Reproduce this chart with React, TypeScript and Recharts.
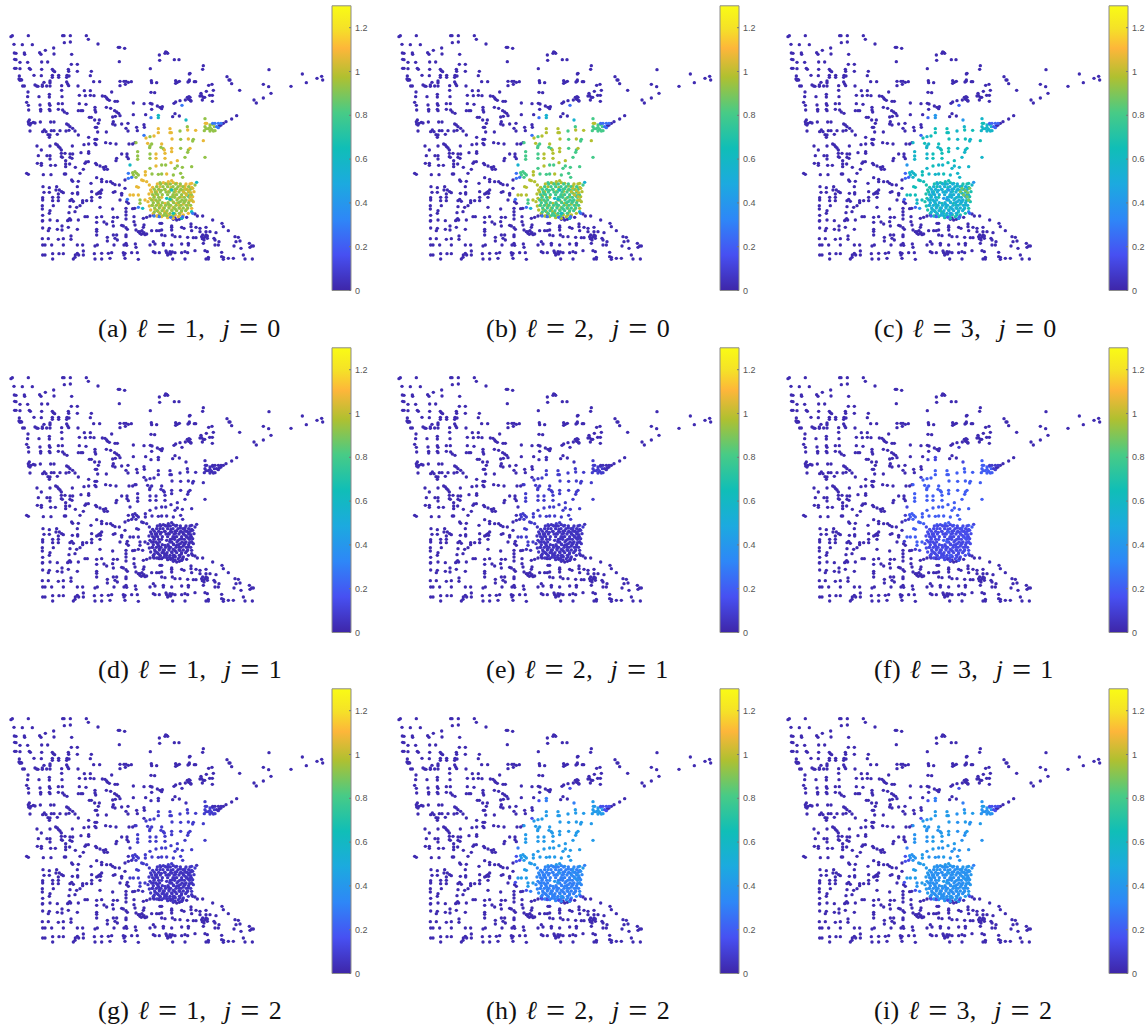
import { BarChart, Bar, ScatterChart, Scatter, XAxis, YAxis } from 'recharts';

type Pair = number[];
const shift = (list: Pair[], dx: number, dy: number) => list.map(([x, y]) => ({ x: x + dx, y: y + dy }));
const plain = (list: Pair[]) => list.map(([x, y]) => ({ x, y }));

const northWestDark: Pair[] = [
  [33,50],[37,47],[85,47],[188,47],[192,47],[211,47],[259,47],[265,58],[42,73],[67,74],[97,74],[193,68],[211,66],[294,72],
  [161,84],[136,91],[355,82],[359,82],[374,85],[43,99],[48,100],[73,99],[74,103],[119,98],[123,103],[162,102],[215,103],
  [478,105],[495,100],[500,97],[503,100],[497,96],[44,118],[48,119],[60,127],[83,127],[125,126],[143,126],[358,125],[479,121],
  [523,119],[537,119],[214,133],[232,133],[44,145],[48,145],[60,146],[88,145],[91,148],[125,148],[157,148],[160,152],[164,155],
  [205,148],[206,154],[232,154],[274,154],[451,146],[58,168],[102,166],[124,167],[157,166],[157,172],[176,166],[176,172],[201,166],
  [207,168],[200,172],[271,167],[568,162],[57,177],[62,178],[65,180],[60,181],[132,187],[150,183],[150,188],[200,186],[203,192],
  [281,185],[299,185],[360,184],[372,184],[378,184],[385,187],[394,185],[376,193],[360,197],[454,182],[455,188],[470,188],[527,182],
  [532,187],[538,184],[527,190],[567,184],[68,198],[73,198],[105,195],[110,198],[114,199],[127,195],[127,199],[140,198],[150,198],
  [185,197],[206,197],[234,198],[185,211],[84,216],[253,212],[271,212],[335,216],[453,217],[464,218],[83,230],[117,230],[148,223],
  [148,231],[186,230],[238,226],[256,227],[271,226],[282,227],[307,228],[315,229],[320,234],[323,238],[328,241],[345,244],[352,244],
  [562,232],[556,240],[540,242],[527,246],[522,250],[566,238],[80,247],[85,256],[148,251],[150,256],[175,251],[187,251],[238,251],
  [258,253],[285,262],[400,249],[432,251],[451,250],[456,252],[472,258],[480,262],[487,260],[485,266],[86,270],[120,255],[122,268],
  [122,273],[148,268],[150,272],[175,268],[188,270],[193,276],[201,280],[235,272],[243,272],[248,272],[285,270],[287,276],[319,262],
  [332,265],[344,272],[350,276],[356,280],[455,268],[437,284],[400,284],[360,287],[338,291],[346,289],[525,281],[518,290],[538,288],
  [268,292],[274,292],[88,300],[85,305],[86,312],[93,310],[100,307],[105,309],[90,315],[121,306],[152,306],[162,306],[284,300],
  [298,300],[295,310],[340,305],[338,312],[345,315],[200,312],[205,315],[210,320],[365,312],[384,310],[432,314],[433,322],[410,322],
  [412,332],[378,325],[290,322],[286,322],[133,330],[128,335],[138,335],[90,333],[154,332],[162,332],[180,332],[218,325],[225,333],
  [198,333],[207,331],[293,336],[319,336],[384,333],[144,344],[150,345],[172,343],[235,345],[148,352],[266,352],[285,358],[290,358],
];

const southWestDark: Pair[] = [
  [111,18],[150,18],[167,12],[172,15],[176,20],[180,24],[184,30],[217,18],[252,14],[266,12],[285,10],[288,14],[317,8],[331,10],[348,12],
  [387,12],[398,12],[405,8],[124,30],[184,40],[184,50],[195,40],[210,42],[218,42],[243,38],[266,35],[266,40],[115,47],[141,47],[150,47],
  [150,57],[210,52],[216,55],[197,62],[197,72],[209,72],[187,52],[365,42],[381,42],[381,50],[385,56],[350,55],[348,62],[112,70],[124,70],
  [124,76],[152,76],[166,76],[197,80],[226,82],[250,88],[255,70],[265,65],[258,66],[287,70],[290,74],[300,78],[310,82],[317,80],[322,88],
  [313,88],[80,100],[85,103],[130,104],[153,104],[193,102],[197,102],[240,100],[290,113],[215,120],[218,124],[235,124],[305,118],[305,125],
  [320,125],[332,125],[338,130],[345,134],[358,135],[375,120],[375,145],[129,140],[148,143],[170,140],[168,150],[178,150],[185,155],[190,158],
  [148,157],[132,157],[273,130],[275,155],[300,155],[295,160],[290,162],[305,150],[340,157],[345,155],[365,160],[232,140],[217,160],[233,158],
  [233,162],[128,173],[128,180],[158,172],[158,182],[175,162],[175,172],[175,182],[210,182],[215,178],[220,184],[248,182],[248,188],[260,182],
  [275,172],[275,182],[300,172],[380,185],[385,190],[360,180],[365,165],[127,197],[127,207],[160,197],[150,212],[148,220],[240,197],[230,202],
  [225,215],[210,200],[207,218],[300,202],[338,207],[378,205],[398,206],[404,205],[128,226],[128,242],[127,243],[150,240],[172,242],[205,240],
  [212,240],[235,240],[255,230],[262,230],[290,232],[305,230],[340,232],[352,232],[378,215],[378,225],[378,237],[402,230],[338,245],[312,246],
  [320,252],[290,247],[340,258],[365,256],[370,258],[378,263],[382,268],[402,245],[405,255],[430,235],[440,232],[128,264],[148,265],[145,272],
  [172,268],[186,258],[186,270],[205,262],[232,268],[290,268],[290,274],[340,285],[350,285],[345,295],[352,300],[378,285],[378,290],[408,270],
  [415,275],[420,280],[430,280],[440,282],[432,255],[430,262],[127,296],[145,296],[175,298],[190,296],[213,288],[213,298],[290,285],[322,292],
  [322,303],[378,310],[380,316],[406,312],[408,322],[128,315],[135,315],[155,315],[190,315],[232,315],[248,315],[292,315],[285,318],[342,315],
  [372,315],[128,345],[135,345],[158,341],[177,341],[190,341],[232,340],[226,345],[236,345],[250,333],[250,345],[283,341],[305,340],[325,340],
  [335,338],[370,338],[375,340],[395,338],[412,338],[158,357],[220,357],[225,352],[285,357],[305,357],[330,355],[375,355],[415,358],[372,345],
  [420,275],[432,278],[424,283],[435,284],[426,272],[203,242],[209,236],[296,158],[302,160],
];

const northEastDark: Pair[] = [
  [250,137],[248,148],[321,170],[327,180],[330,180],[335,191],[359,211],[447,149],[547,162],[605,169],[591,175],[608,180],[559,188],[513,199],
  [430,193],[446,200],[453,220],[430,234],[402,240],[409,249],[210,160],[208,180],[204,186],[223,185],[227,185],[266,196],[276,193],[280,211],
  [259,214],[269,226],[277,226],[243,220],[245,227],[240,228],[250,232],[254,232],[247,240],[277,244],[212,242],[205,235],[210,232],[207,230],
  [213,243],[350,287],[335,297],[318,305],[310,310],[303,315],[298,318],
];

const southEastDark: Pair[] = [
  [90,228],[100,225],[115,228],[160,238],[170,240],[185,235],[200,232],[225,222],[232,228],[248,228],[278,240],[120,250],[125,250],[155,258],
  [155,262],[185,262],[192,265],[213,252],[213,260],[228,262],[240,265],[258,262],[306,250],[310,260],[325,272],[270,275],[288,278],[258,275],
  [240,275],[215,272],[95,272],[110,272],[125,270],[125,285],[135,287],[157,285],[165,290],[180,290],[203,292],[220,293],[228,293],[245,290],
  [250,295],[255,290],[262,295],[258,285],[282,295],[285,300],[297,305],[345,290],[355,292],[348,305],[360,303],[388,310],[395,318],[390,322],
  [400,318],[90,315],[105,312],[100,305],[130,310],[130,315],[155,315],[185,312],[205,310],[205,315],[250,310],[285,315],[295,315],[342,318],
  [363,325],[100,335],[105,338],[118,338],[140,338],[150,335],[145,342],[165,338],[185,338],[195,335],[203,338],[225,332],[255,332],[262,335],
  [305,337],[305,350],[370,345],[325,355],[340,355],[375,357],[397,357],[158,357],[195,357],[258,357],[265,352],[265,357],[310,352],[310,358],
  [138,333],[143,345],[152,342],[157,336],[248,285],[252,300],[247,296],[262,288],[165,234],[178,238],[155,270],[118,272],
];

const corridorHigh: Pair[] = [
  [475,386],[510,386],[475,398],[510,398],[514,398],[563,390],[516,417],[565,417],[443,430],[485,432],[515,445],[438,414],[462,408],[570,445],
  [616,370],[620,370],[587,391],[610,422],[390,585],[400,585],[415,585],[410,560],[415,562],[430,542],[436,515],[436,525],[425,540],[435,600],
  [495,460],[515,455],[493,450],[468,462],[468,475],[495,475],[513,488],[532,482],[500,522],[468,498],[440,545],[495,550],[505,545],[515,542],
  [530,550],[555,558],[575,550],
];
const corridorLow: Pair[] = [
  [540,393],[562,380],[450,410],[542,418],[455,432],[450,438],[449,443],[483,442],[490,446],[542,445],[408,428],[615,356],[615,380],[618,386],
  [613,392],[630,375],[638,373],[630,382],[635,388],[643,380],[645,392],[640,393],[630,393],[625,386],[580,418],[578,423],[398,518],[405,515],
  [410,520],[400,525],[415,525],[408,532],[413,455],[413,468],[413,478],[420,600],[420,610],[450,462],[450,475],[565,450],[563,457],[555,472],
  [615,472],[497,495],[485,495],[450,505],[456,522],[475,523],[485,522],[520,525],[542,520],[525,505],[532,498],[547,502],[575,500],[548,532],
  [480,548],[585,555],
];
const metroHigh: Pair[] = [
  [448,555],[452,570],[447,582],[450,595],[444,605],[448,618],[452,630],[460,640],[470,648],[485,650],[503,653],[520,655],[535,650],[550,645],
  [565,640],[575,625],[580,605],[578,590],[582,575],[575,562],[570,552],[558,552],[520,548],[505,552],[490,548],[472,552],[458,562],[470,575],
  [485,592],[495,610],[510,600],[525,585],[540,570],[555,605],[540,625],[515,630],[500,640],[530,610],[545,590],[505,575],[478,620],[460,600],
  [565,615],[475,635],[490,630],[540,645],[455,576],[463,588],[472,604],[466,628],[481,642],[494,636],[508,646],[526,644],[544,636],[560,628],
  [568,602],[550,612],[534,596],[520,606],[507,620],[489,624],[527,574],[541,558],[556,580],[513,562],[495,568],[480,560],[572,584],[562,568],
  [537,616],[520,622],[476,612],[458,616],
];
const metroLow: Pair[] = [
  [482,552],[498,552],[511,552],[527,552],[541,552],[470,560],[489,560],[503,560],[519,560],[534,560],[549,560],[566,560],[463,568],[476,568],
  [494,568],[512,568],[525,568],[543,568],[558,568],[571,568],[466,576],[481,576],[498,576],[508,576],[522,576],[537,576],[551,576],[566,576],
  [458,584],[473,584],[487,584],[503,584],[519,584],[530,584],[545,584],[560,584],[574,584],[462,592],[476,592],[511,592],[524,592],[539,592],
  [553,592],[568,592],[455,600],[468,600],[479,600],[515,600],[531,600],[546,600],[558,600],[575,600],[460,608],[474,608],[487,608],[504,608],
  [521,608],[536,608],[552,608],[566,608],[456,616],[469,616],[483,616],[497,616],[512,616],[528,616],[543,616],[559,616],[572,616],[464,624],
  [478,624],[493,624],[507,624],[522,624],[537,624],[550,624],[563,624],[472,632],[486,632],[501,632],[516,632],[530,632],[545,632],[557,632],
  [480,640],[495,640],[510,640],[523,640],[538,640],[500,647],[518,647],[468,581],[484,571],[530,566],[548,571],[517,590],[506,613],[526,627],
  [491,646],[553,603],[463,636],[541,605],
];
const metroMid: Pair[] = [[510,598],[500,595],[515,570],[565,588],[520,640],[545,655],[575,635]];
const metroNorthEast: Pair[] = [[555,565],[565,572],[572,578],[560,585],[550,575],[578,565],[570,590],[575,600]];
const edgeTeal: Pair[] = [[558,360],[475,346],[475,353],[390,495],[428,625],[590,547]];
const edgeBlue: Pair[] = [
  [453,353],[546,316],[432,406],[638,370],[645,370],[655,370],[663,370],[650,380],[655,383],[395,532],[385,520],[385,535],[415,622],[382,598],
  [462,648],[478,650],[512,652],[548,650],[578,640],
];

const darkNodes = [
  ...shift(northWestDark, 0, 60),
  ...shift(southWestDark, 0, 420),
  ...shift(northEastDark, 360, 60),
  ...shift(southEastDark, 360, 420),
];

const darkValues = [0.02, 0.02, 0.02, 0.02, 0.02, 0.02, 0.02, 0.02, 0.02];
const edgeBlueValues = [0.28, 0.25, 0.22, 0.02, 0.03, 0.08, 0.03, 0.15, 0.15];
const edgeTealValues = [0.6, 0.55, 0.4, 0.03, 0.04, 0.12, 0.04, 0.3, 0.3];
const corridorLowValues = [0.93, 0.8, 0.58, 0.03, 0.08, 0.2, 0.08, 0.42, 0.38];
const corridorHighValues = [1.07, 0.98, 0.64, 0.03, 0.08, 0.2, 0.08, 0.42, 0.42];
const metroLowValues = [0.93, 0.78, 0.52, 0.03, 0.05, 0.13, 0.05, 0.3, 0.36];
const metroHighValues = [1.07, 0.98, 0.68, 0.03, 0.05, 0.14, 0.06, 0.33, 0.4];
const metroMidValues = [0.65, 0.6, 0.42, 0.03, 0.05, 0.2, 0.05, 0.4, 0.42];
const metroNorthEastValues = [1.03, 1, 0.88, 0.03, 0.05, 0.15, 0.05, 0.36, 0.38];

const groups = [
  { name: 'dark', nodes: darkNodes, values: darkValues },
  { name: 'corridorLow', nodes: plain(corridorLow), values: corridorLowValues },
  { name: 'corridorHigh', nodes: plain(corridorHigh), values: corridorHighValues },
  { name: 'metroHigh', nodes: plain(metroHigh), values: metroHighValues },
  { name: 'metroLow', nodes: plain(metroLow), values: metroLowValues },
  { name: 'metroMid', nodes: plain(metroMid), values: metroMidValues },
  { name: 'metroNorthEast', nodes: plain(metroNorthEast), values: metroNorthEastValues },
  { name: 'edgeTeal', nodes: plain(edgeTeal), values: edgeTealValues },
  { name: 'edgeBlue', nodes: plain(edgeBlue), values: edgeBlueValues },
];

const panelNames = ['a', 'b', 'c', 'd', 'e', 'f', 'g', 'h', 'i'];
const levels = [1, 2, 3];
const orders = [0, 1, 2];
const colorTicks = [0, 0.2, 0.4, 0.6, 0.8, 1, 1.2];

const parula: [number, number[]][] = [
  [0, [62, 38, 168]],
  [0.125, [71, 80, 242]],
  [0.25, [46, 135, 247]],
  [0.375, [28, 170, 223]],
  [0.5, [16, 190, 183]],
  [0.625, [72, 203, 134]],
  [0.75, [176, 192, 48]],
  [0.85, [253, 182, 58]],
  [0.92, [245, 225, 40]],
  [1, [249, 251, 21]],
];

function colorOf(value: number) {
  const t = Math.min(1, Math.max(0, value / 1.3));
  let i = 0;
  while (i < parula.length - 2 && t > parula[i + 1][0]) i++;
  const [t0, c0] = parula[i];
  const [t1, c1] = parula[i + 1];
  const f = (t - t0) / (t1 - t0);
  const mix = c0.map((c, k) => Math.round(c + (c1[k] - c) * f));
  return `rgb(${mix[0]},${mix[1]},${mix[2]})`;
}

const colLeft = [0, 388, 777];
const rowTop = [0, 341.5, 683];
const captionLeft = [98, 486, 874];
const captionTop = [315, 656, 997];

const Dot = (props: any) => <circle cx={props.cx} cy={props.cy} r={1.7} fill={props.fill} />;

function Panel({ index }: { index: number }) {
  return (
    <ScatterChart width={340} height={300} margin={{ top: 0, right: 0, bottom: 0, left: 0 }}>
      <XAxis type="number" dataKey="x" domain={[0, 1020]} hide />
      <YAxis type="number" dataKey="y" domain={[0, 900]} reversed hide />
      {groups.map((g) => (
        <Scatter
          key={g.name}
          data={g.nodes}
          fill={colorOf(g.values[index])}
          shape={Dot}
          isAnimationActive={false}
        />
      ))}
    </ScatterChart>
  );
}

function ColorBar({ index }: { index: number }) {
  const id = `parula-${index}`;
  return (
    <BarChart
      width={60}
      height={300}
      data={[{ name: 'scale', top: 1.3 }]}
      barCategoryGap={0}
      margin={{ top: 5.8, right: 0, bottom: 9.5, left: 7 }}
    >
      <defs>
        <linearGradient id={id} x1="0" y1="1" x2="0" y2="0">
          {parula.map(([t, c]) => (
            <stop key={t} offset={t} stopColor={`rgb(${c[0]},${c[1]},${c[2]})`} />
          ))}
        </linearGradient>
      </defs>
      <XAxis dataKey="name" hide />
      <Bar dataKey="top" fill={`url(#${id})`} stroke="#8c8c8c" strokeWidth={1} isAnimationActive={false} />
      <YAxis
        orientation="right"
        width={34}
        domain={[0, 1.3]}
        ticks={colorTicks}
        interval={0}
        axisLine={false}
        tickSize={-2}
        tickMargin={6}
        tickLine={{ stroke: '#777' }}
        tick={{ fill: '#555', fontSize: 9, fontFamily: 'Liberation Sans' }}
      />
    </BarChart>
  );
}

const Eq = () => <span style={{ fontSize: 34, lineHeight: '20px', verticalAlign: -3 }}>=</span>;

export default function App() {
  return (
    <div style={{ position: 'absolute', left: 0, top: 0, width: 1145, height: 1030, background: '#fff' }}>
      {panelNames.map((name, i) => {
        const col = i % 3;
        const row = Math.floor(i / 3);
        return (
          <div key={name}>
            <div style={{ position: 'absolute', left: colLeft[col], top: rowTop[row] }}>
              <Panel index={i} />
            </div>
            <div style={{ position: 'absolute', left: colLeft[col] + 325, top: rowTop[row] }}>
              <ColorBar index={i} />
            </div>
            <div
              style={{
                position: 'absolute',
                left: captionLeft[col],
                top: captionTop[row],
                fontFamily: 'Liberation Serif',
                fontSize: 26,
                letterSpacing: 0.3,
                wordSpacing: 2,
                lineHeight: '28px',
                whiteSpace: 'pre',
                color: '#111',
              }}
            >
              ({name}) <i>ℓ</i> <Eq /> {levels[col]},  <i>j</i> <Eq /> {orders[row]}
            </div>
          </div>
        );
      })}
    </div>
  );
}
